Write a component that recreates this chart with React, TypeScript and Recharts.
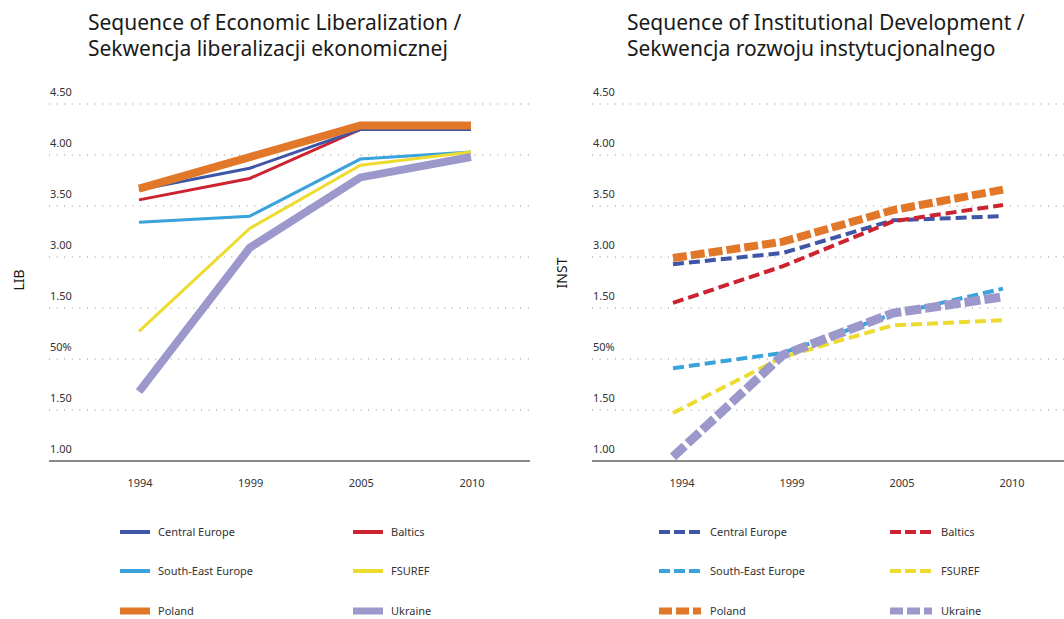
import React from "react";
import { LineChart, Line, XAxis, YAxis, CartesianGrid } from "recharts";

const years = ["1994", "1999", "2005", "2010"];

const yTickValues = [1, 1.5, 2, 2.5, 3, 3.5, 4, 4.5];
const yTickLabels = ["1.00", "1.50", "50%", "1.50", "3.00", "3.50", "4.00", "4.50"];

// LIB values per series
const libCentralEurope = [3.66, 3.87, 4.25, 4.25];
const libBaltics = [3.56, 3.77, 4.25, 4.25];
const libSouthEast = [3.34, 3.4, 3.96, 4.03];
const libFsuref = [2.27, 3.28, 3.9, 4.03];
const libUkraine = [1.68, 3.09, 3.78, 3.98];
const libPoland = [3.67, 3.98, 4.29, 4.29];

// INST values per series
const instCentralEurope = [2.93, 3.04, 3.36, 3.4];
const instBaltics = [2.55, 2.91, 3.35, 3.51];
const instSouthEast = [1.91, 2.06, 2.44, 2.69];
const instFsuref = [1.47, 2.02, 2.33, 2.38];
const instUkraine = [1.04, 2.04, 2.45, 2.61];
const instPoland = [2.99, 3.15, 3.46, 3.66];

const FONT = "'Noto Sans', 'Open Sans', sans-serif";

type Series = {
  key: string;
  name: string;
  color: string;
  width: number;
  dash: string;
};

// drawing order: later entries sit on top
const solidSeries: Series[] = [
  { key: "bal", name: "Baltics", color: "#CD2230", width: 3, dash: "" },
  { key: "ce", name: "Central Europe", color: "#3F56A6", width: 3, dash: "" },
  { key: "see", name: "South-East Europe", color: "#3AA3DC", width: 3, dash: "" },
  { key: "fsu", name: "FSUREF", color: "#EEDB2F", width: 3, dash: "" },
  { key: "ukr", name: "Ukraine", color: "#9D98CB", width: 8, dash: "" },
  { key: "pol", name: "Poland", color: "#E17829", width: 8, dash: "" },
];

const dashedSeries: Series[] = [
  { key: "ce", name: "Central Europe", color: "#3F56A6", width: 4, dash: "11 5" },
  { key: "bal", name: "Baltics", color: "#CD2230", width: 4, dash: "11 5" },
  { key: "see", name: "South-East Europe", color: "#3AA3DC", width: 4, dash: "11 5" },
  { key: "fsu", name: "FSUREF", color: "#EEDB2F", width: 4, dash: "11 5" },
  { key: "ukr", name: "Ukraine", color: "#9D98CB", width: 9, dash: "16 4" },
  { key: "pol", name: "Poland", color: "#E17829", width: 8, dash: "14 4" },
];

// legend layout order: [left column, right column] per row
const legendRows = [
  ["ce", "bal"],
  ["see", "fsu"],
  ["pol", "ukr"],
];

const libData = years.map((year, i) => ({
  year,
  ce: libCentralEurope[i],
  bal: libBaltics[i],
  see: libSouthEast[i],
  fsu: libFsuref[i],
  ukr: libUkraine[i],
  pol: libPoland[i],
}));

const instData = years.map((year, i) => ({
  year,
  ce: instCentralEurope[i],
  bal: instBaltics[i],
  see: instSouthEast[i],
  fsu: instFsuref[i],
  ukr: instUkraine[i],
  pol: instPoland[i],
}));

interface PanelProps {
  data: any[];
  series: Series[];
  left: number;
  width: number;
  plotLeft: number;
  marginRight: number;
  padLeft: number;
  padRight: number;
  tickX: number;
  xLabelShift: number;
}

const Y_AXIS_W = 40;

function Panel({ data, series, left, width, plotLeft, marginRight, padLeft, padRight, tickX, xLabelShift }: PanelProps) {
  return (
    <div style={{ position: "absolute", left, top: 0 }}>
      <LineChart
        width={width}
        height={500}
        data={data}
        margin={{ top: 104, right: marginRight, left: plotLeft - Y_AXIS_W, bottom: 0 }}
      >
        <CartesianGrid vertical={false} stroke="#8c8c8c" strokeDasharray="1 6.6" />
        <XAxis
          dataKey="year"
          padding={{ left: padLeft, right: padRight }}
          height={39}
          tickLine={false}
          axisLine={{ stroke: "#8a8a8a", strokeWidth: 2 }}
          tick={(p: any) => (
            <text
              x={p.x + xLabelShift}
              y={487}
              textAnchor="middle"
              fontSize={11}
              fontFamily={FONT}
              fill="#333"
            >
              {p.payload.value}
            </text>
          )}
        />
        <YAxis
          type="number"
          domain={[1, 4.5]}
          ticks={yTickValues}
          interval={0}
          width={Y_AXIS_W}
          axisLine={false}
          tickLine={false}
          tick={(p: any) => (
            <text x={tickX} y={p.y - 8} fontSize={11} fontFamily={FONT} fill="#333">
              {yTickLabels[yTickValues.indexOf(p.payload.value)]}
            </text>
          )}
        />
        {series.map((s) => (
          <Line
            key={s.key}
            type="linear"
            dataKey={s.key}
            name={s.name}
            stroke={s.color}
            strokeWidth={s.width}
            strokeDasharray={s.dash || undefined}
            strokeLinecap="butt"
            strokeLinejoin="miter"
            dot={false}
            activeDot={false}
            isAnimationActive={false}
          />
        ))}
      </LineChart>
    </div>
  );
}

function LegendBlock({ series, left, sampleW, textGap, colGap }: { series: Series[]; left: number; sampleW: number; textGap: number; colGap: number }) {
  const rowY = [532, 571, 611];
  return (
    <svg style={{ position: "absolute", left: 0, top: 0 }} width={1064} height={619}>
      {legendRows.map((row, r) =>
        row.map((k, c) => {
          const s = series.find((x) => x.key === k)!;
          const x0 = left + c * colGap;
          const y = rowY[r];
          return (
            <g key={k}>
              <line
                x1={x0}
                x2={x0 + sampleW}
                y1={y}
                y2={y}
                stroke={s.color}
                strokeWidth={s.width <= 4 ? 4 : 7}
                strokeDasharray={s.dash ? (s.width > 4 ? "13 4" : "11 4") : undefined}
              />
              <text x={x0 + sampleW + textGap} y={y + 4} fontSize={11} fontFamily={FONT} fill="#333">
                {s.name}
              </text>
            </g>
          );
        })
      )}
    </svg>
  );
}

function Title({ left, lines }: { left: number; lines: string[] }) {
  return (
    <div
      style={{
        position: "absolute",
        left,
        top: 9,
        fontFamily: FONT,
        fontSize: 21,
        lineHeight: "26px",
        color: "#1a1a1a",
        whiteSpace: "nowrap",
      }}
    >
      {lines.map((l) => (
        <div key={l}>{l}</div>
      ))}
    </div>
  );
}

function AxisName({ x, y, text }: { x: number; y: number; text: string }) {
  return (
    <div
      style={{
        position: "absolute",
        left: x,
        top: y,
        transform: "translate(-50%, -50%) rotate(-90deg)",
        fontFamily: FONT,
        fontSize: 14,
        color: "#1a1a1a",
        whiteSpace: "nowrap",
      }}
    >
      {text}
    </div>
  );
}

export default function App() {
  return (
    <div style={{ position: "absolute", left: 0, top: 0, width: 1064, height: 619, background: "#fff", overflow: "hidden" }}>
      <Title left={88} lines={["Sequence of Economic Liberalization /", "Sekwencja liberalizacji ekonomicznej"]} />
      <Title left={627} lines={["Sequence of Institutional Development /", "Sekwencja rozwoju instytucjonalnego"]} />
      <AxisName x={18} y={280} text="LIB" />
      <AxisName x={561} y={273} text="INST" />
      <Panel
        data={libData}
        series={solidSeries}
        left={0}
        width={540}
        plotLeft={49}
        marginRight={10}
        padLeft={90}
        padRight={59}
        tickX={50}
        xLabelShift={1}
      />
      <Panel
        data={instData}
        series={dashedSeries}
        left={540}
        width={524}
        plotLeft={52}
        marginRight={0}
        padLeft={81}
        padRight={61}
        tickX={53}
        xLabelShift={9}
      />
      <LegendBlock series={solidSeries} left={120} sampleW={30} textGap={8} colGap={233} />
      <LegendBlock series={dashedSeries} left={659} sampleW={42} textGap={9} colGap={231} />
    </div>
  );
}
